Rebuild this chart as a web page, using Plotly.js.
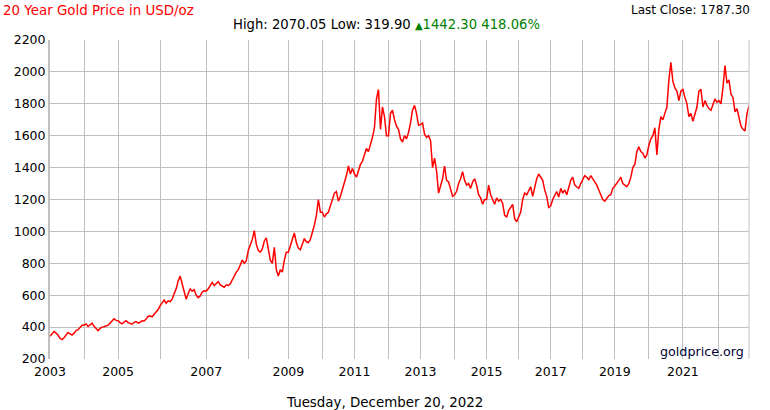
<!DOCTYPE html>
<html>
<head>
<meta charset="utf-8">
<script src="https://cdn.plot.ly/plotly-3.0.1.min.js"></script>
<style>html,body{margin:0;padding:0;background:#fff;}#chart{width:770px;height:410px;}</style>
</head>
<body>
<div id="chart"></div>
<script>
// Gold price samples (USD/oz), one array per calendar year
const years = [2003,2004,2005,2006,2007,2008,2009,2010,2011,2012,2013,2014,2015,2016,2017,2018,2019,2020,2021,2022];
const y2003 = [343, 356, 372, 362, 350, 330, 322, 333, 350, 366, 358, 350, 362, 378, 384, 395, 412];
const y2004 = [412, 420, 404, 415, 425, 405, 388, 378, 392, 400, 402, 408, 412, 425, 440, 452, 442];
const y2005 = [440, 428, 420, 432, 440, 428, 425, 418, 430, 435, 425, 430, 440, 438, 450, 468, 470, 465, 480, 495, 510];
const y2006 = [535, 555, 570, 550, 565, 560, 575, 610, 640, 690, 720, 670, 620, 575, 610, 640, 625, 635, 600, 585, 595, 620, 628];
const y2007 = [625, 640, 665, 680, 660, 670, 685, 665, 655, 650, 665, 660, 672, 700, 720, 745, 760, 790, 820, 800, 815];
const y2008 = [880, 915, 950, 1005, 920, 880, 870, 890, 940, 960, 880, 820, 800, 900, 760, 720, 760, 745, 820, 870];
const y2009 = [870, 910, 945, 990, 930, 895, 885, 920, 955, 935, 930, 950, 990, 1040, 1100, 1200, 1120];
const y2010 = [1120, 1090, 1110, 1120, 1160, 1200, 1240, 1250, 1190, 1220, 1260, 1300, 1350, 1410, 1360, 1395];
const y2011 = [1360, 1340, 1380, 1420, 1440, 1480, 1520, 1500, 1540, 1590, 1650, 1830, 1890, 1640, 1780, 1720, 1600];
const y2012 = [1600, 1740, 1760, 1700, 1660, 1640, 1580, 1560, 1600, 1580, 1620, 1680, 1760, 1790, 1740, 1665];
const y2013 = [1670, 1680, 1610, 1590, 1600, 1570, 1400, 1460, 1380, 1240, 1290, 1330, 1410, 1320, 1310, 1260, 1220];
const y2014 = [1230, 1250, 1300, 1330, 1375, 1320, 1290, 1300, 1270, 1310, 1330, 1290, 1230, 1210, 1170, 1200];
const y2015 = [1200, 1290, 1230, 1200, 1170, 1210, 1190, 1200, 1175, 1100, 1090, 1130, 1150, 1170, 1080, 1060];
const y2016 = [1090, 1120, 1200, 1240, 1230, 1260, 1280, 1220, 1270, 1330, 1360, 1340, 1320, 1260, 1220, 1150];
const y2017 = [1160, 1200, 1230, 1250, 1215, 1270, 1240, 1260, 1230, 1280, 1320, 1340, 1290, 1280, 1270, 1300];
const y2018 = [1330, 1350, 1340, 1325, 1350, 1330, 1310, 1290, 1260, 1230, 1200, 1190, 1205, 1225, 1230, 1270];
const y2019 = [1285, 1300, 1320, 1340, 1300, 1290, 1280, 1300, 1340, 1400, 1420, 1500, 1530, 1500, 1490, 1460, 1480];
const y2020 = [1540, 1580, 1600, 1650, 1480, 1640, 1720, 1700, 1740, 1780, 1950, 2060, 1940, 1900, 1880, 1820, 1880];
const y2021 = [1890, 1840, 1800, 1720, 1740, 1690, 1740, 1780, 1880, 1890, 1780, 1820, 1790, 1770, 1760, 1790, 1830, 1810];
const y2022 = [1820, 1800, 1900, 2040, 1930, 1950, 1860, 1840, 1750, 1770, 1710, 1660, 1640, 1630, 1740, 1787.3];

const titleText = "20 Year Gold Price in USD/oz";
const statsText = "High: 2070.05 Low: 319.90 ";
const changeText = "1442.30 418.06%";
const lastCloseText = "Last Close: 1787.30";
const dateText = "Tuesday, December 20, 2022";
const sourceText = "goldprice.org";
const yTicks = [200,400,600,800,1000,1200,1400,1600,1800,2000,2200];

const perYear = [y2003,y2004,y2005,y2006,y2007,y2008,y2009,y2010,y2011,y2012,y2013,y2014,y2015,y2016,y2017,y2018,y2019,y2020,y2021,y2022];
const xs = [], ys = [], yearStart = [];
let idx = 0;
perYear.forEach(arr => { yearStart.push(idx); arr.forEach(v => { xs.push(idx); ys.push(v); idx++; }); });
const lastIdx = idx - 1;

const FONT = "DejaVu Sans, Verdana, sans-serif";
const trace = {x: xs, y: ys, type: 'scatter', mode: 'lines',
  line: {color: '#ff0000', width: 1.5}, hoverinfo: 'skip'};

const layout = {
  width: 770, height: 410,
  margin: {l: 50, r: 21, t: 40, b: 51},
  paper_bgcolor: '#fff', plot_bgcolor: '#fff',
  font: {family: FONT, size: 12, color: '#000'},
  showlegend: false,
  title: {text: titleText, x: 0.004, xanchor: 'left', xref: 'container', y: 0.976, yanchor: 'middle', yref: 'container',
          font: {family: FONT, size: 13.4, color: '#ff0000'}},
  xaxis: {range: [0, lastIdx], tickmode: 'array', tickvals: yearStart,
          ticktext: years.map((y, i) => i % 2 === 0 ? String(y) : ''),
          showgrid: true, gridcolor: '#c0c0c0', gridwidth: 1, zeroline: false,
          showline: false, ticks: '', ticklen: 0, ticklabelstandoff: 3,
          tickfont: {size: 12.5, family: FONT}, fixedrange: true},
  yaxis: {range: [200, 2200], tickvals: yTicks, showgrid: true, gridcolor: '#c0c0c0', gridwidth: 1,
          zeroline: false, showline: true, linecolor: '#c0c0c0', linewidth: 2, ticks: '',
          tickfont: {size: 12.5, family: FONT}, fixedrange: true},
  shapes: [{type: 'line', xref: 'paper', yref: 'paper', x0: 1, x1: 1, y0: 0, y1: 1, line: {color: '#c0c0c0', width: 1}}],
  annotations: [
    {text: statsText + '<span style="color:#008000"><span style="font-size:10px">▲</span>' + changeText + '</span>',
     xref: 'paper', yref: 'paper', x: 0.482, y: 1.050, xanchor: 'center', yanchor: 'middle', showarrow: false,
     font: {family: FONT, size: 13.2, color: '#000'}},
    {text: lastCloseText, xref: 'paper', yref: 'paper', x: 1.0043, y: 1.094, xanchor: 'right', yanchor: 'middle',
     showarrow: false, font: {family: FONT, size: 12, color: '#000'}},
    {text: dateText, xref: 'paper', yref: 'paper', x: 0.479, y: -0.135, xanchor: 'center', yanchor: 'middle',
     showarrow: false, font: {family: FONT, size: 13.4, color: '#000'}},
    {text: sourceText, xref: 'paper', yref: 'paper', x: 0.9957, y: 0.025, xanchor: 'right', yanchor: 'middle',
     showarrow: false, font: {family: FONT, size: 12.7, color: '#000033'}}
  ]
};
Plotly.newPlot('chart', [trace], layout, {staticPlot: true, displayModeBar: false});
</script>
</body>
</html>
